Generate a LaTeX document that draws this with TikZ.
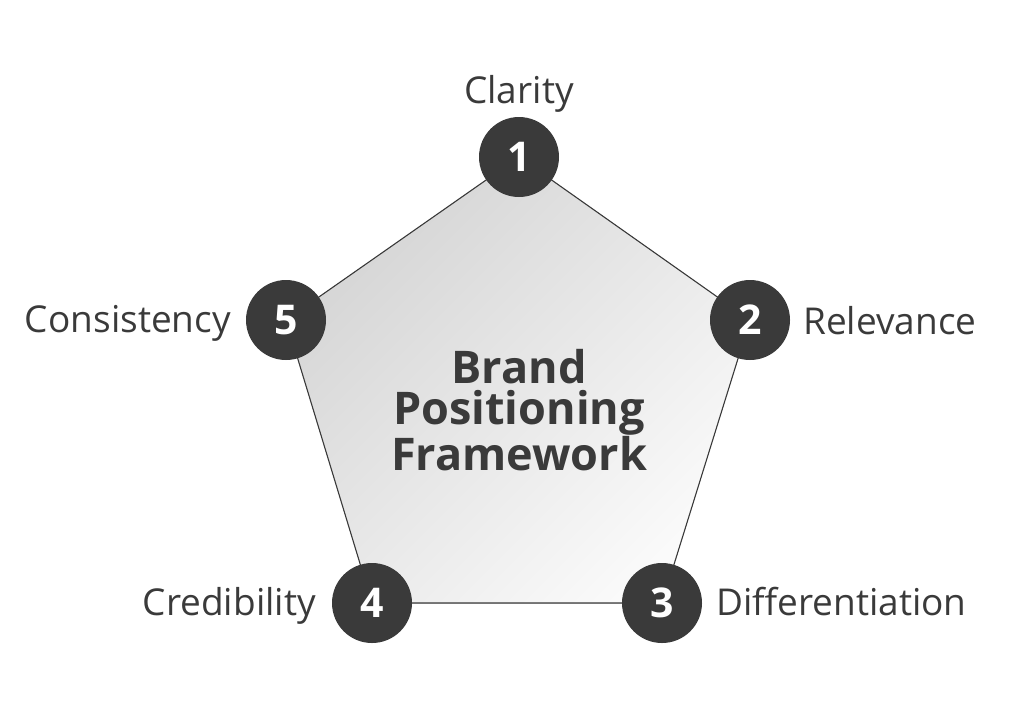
\documentclass[tikz,border=0pt]{standalone}
\usepackage{fontspec}
\setmainfont{Open Sans}
\definecolor{dark}{HTML}{3A3A3A}
\definecolor{shadeA}{HTML}{D4D4D4}
\definecolor{shadeB}{HTML}{FAFAFA}
\begin{document}
\begin{tikzpicture}[x=1pt,y=-1pt,
  num/.style={circle,fill=dark,minimum size=80pt,inner sep=0pt,text=white,font=\bfseries\fontsize{41}{41}\selectfont},
  lbl/.style={text=dark,font=\fontsize{37}{37}\selectfont,inner sep=0pt}]
\useasboundingbox (0,0) rectangle (1024,713);
\coordinate (p1) at (519,157);
\coordinate (p2) at (750,320);
\coordinate (p3) at (662,603);
\coordinate (p4) at (372,603);
\coordinate (p5) at (286,320);
\fill[left color=shadeA,right color=shadeB,shading angle=45] (p1) -- (p2) -- (p3) -- (p4) -- (p5) -- cycle;
\draw[dark,line width=1.1pt] (p1) -- (p2) -- (p3) -- (p4) -- (p5) -- cycle;
\node[num] (n1) at (p1) {1};
\node[num] (n2) at (p2) {2};
\node[num] (n3) at (p3) {3};
\node[num] (n4) at (p4) {4};
\node[num] (n5) at (p5) {5};
\node[lbl,anchor=base] (l1) at (519,103) {Clarity};
\node[lbl,anchor=base west] (l2) at (803,334) {Relevance};
\node[lbl,anchor=base west] (l3) at (716,615) {Differentiation};
\node[lbl,anchor=base east] (l4) at (316,615) {Credibility};
\node[lbl,anchor=base east] (l5) at (231,332) {Consistency};
\node[text=dark,align=center,font=\bfseries\fontsize{45}{41}\selectfont] (title) at (519,410) {Brand\\Positioning\\Framework};
\end{tikzpicture}
\end{document}
